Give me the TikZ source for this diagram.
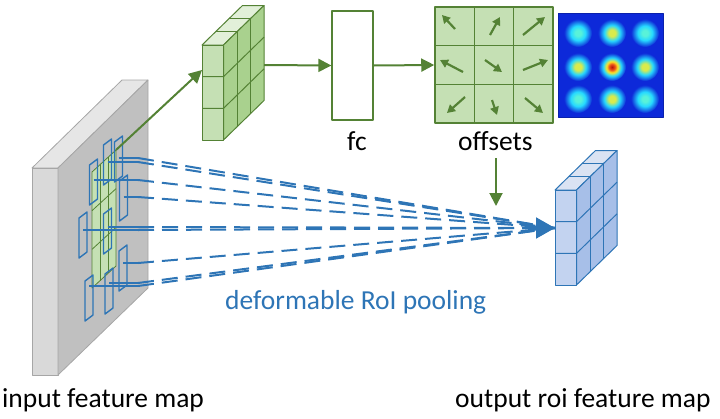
\documentclass[tikz,border=0pt]{standalone}
\usepackage{fontspec}
\setmainfont{Carlito}
\usetikzlibrary{arrows.meta,calc}
\definecolor{gline}{HTML}{548235}
\definecolor{gfront}{HTML}{C5E0B4}
\definecolor{gside}{HTML}{A9D18E}
\definecolor{gtop}{HTML}{E2F0D9}
\definecolor{bline}{HTML}{2E75B6}
\definecolor{bfront}{HTML}{C3D3F0}
\definecolor{bside}{HTML}{A7BFE8}
\definecolor{btop}{HTML}{DAE3F3}
\definecolor{slabfront}{HTML}{D9D9D9}
\definecolor{slabface}{HTML}{C0C0C0}
\definecolor{slabtop}{HTML}{E6E6E6}
\definecolor{slabedge}{HTML}{A6A6A6}
\definecolor{hmbg}{rgb}{0.05,0.16,0.85}
\definecolor{cyanb}{rgb}{0.15,0.85,1.0}
\definecolor{cornc}{rgb}{0.35,0.95,0.85}
\definecolor{yelc}{rgb}{0.85,0.92,0.3}
\definecolor{yelb}{rgb}{1.0,0.9,0.15}
\definecolor{redc}{rgb}{0.72,0.08,0.04}
\definecolor{redb}{rgb}{0.92,0.3,0.1}
\pgfdeclareradialshading{blobC}{\pgfpointorigin}{color(0bp)=(cornc); color(5bp)=(cornc); color(13bp)=(cyanb); color(25bp)=(hmbg); color(50bp)=(hmbg)}
\pgfdeclareradialshading{blobE}{\pgfpointorigin}{color(0bp)=(yelc); color(6bp)=(yelc); color(14bp)=(cyanb); color(25bp)=(hmbg); color(50bp)=(hmbg)}
\pgfdeclareradialshading{blobM}{\pgfpointorigin}{color(0bp)=(redc); color(5bp)=(redb); color(10bp)=(yelb); color(16bp)=(cyanb); color(25bp)=(hmbg); color(50bp)=(hmbg)}
\newcommand\myblock[6]{%
\begin{scope}[shift={#2}, draw=#6, line width=1pt, line join=round]
 \filldraw[fill=#5] (0,0) -- (40.5,-39.5) -- (62,-39.5) -- (21.5,0) -- cycle;
 \filldraw[fill=#4] (21.5,0) -- (62,-39.5) -- (62,55.5) -- (21.5,95) -- cycle;
 \filldraw[fill=#3] (0,0) rectangle (21.5,95);
 \foreach \k in {1,2} {
   \draw (0,31.667*\k) -- (21.5,31.667*\k) -- (62,31.667*\k-39.5);
   \draw (13.5*\k,-13.167*\k) -- (13.5*\k+21.5,-13.167*\k) -- (13.5*\k+21.5,-13.167*\k+95);
 }
 \coordinate (#1-nw) at (0,0);
\end{scope}}
\tikzset{
  lbl/.style={font=\fontsize{27.5pt}{33pt}\selectfont, inner sep=0pt, anchor=base west},
  garrow/.style={draw=gline, line width=2pt, -{Triangle[length=13pt,width=13pt]}},
  oarrow/.style={draw=gline, line width=2.2pt, -{Triangle[length=8pt,width=8.5pt]}},
  roibox/.style={draw=bline, line width=1.4pt},
  solidl/.style={draw=bline, line width=2pt},
  dashl/.style={draw=bline, line width=2pt, dash pattern=on 16pt off 8pt},
}
\begin{document}
\begin{tikzpicture}[x=1pt,y=-1pt, line join=round]
\useasboundingbox (0,0) rectangle (720,418);

% input feature map slab
\filldraw[fill=slabtop, draw=slabedge, line width=0.8pt] (32,168) -- (122,80) -- (148,80) -- (58,168) -- cycle;
\filldraw[fill=slabfront, draw=slabedge, line width=0.8pt] (32,168) rectangle (58,375);
\filldraw[fill=slabface, draw=slabedge, line width=0.8pt] (58,168) -- (148,80) -- (148,288) -- (58,375) -- cycle;

% green region on input map
\coordinate (gtl) at (92,172);
\coordinate (gtr) at (116,150);
\coordinate (gbr) at (116,266);
\coordinate (gbl) at (92,288);
\filldraw[fill=gfront, draw=gline, line width=0.8pt] (gtl) -- (gtr) -- (gbr) -- (gbl) -- cycle;
\foreach \k in {1,2} {
  \draw[gline, line width=0.8pt] ($(gtl)!\k/3!(gbl)$) -- ($(gtr)!\k/3!(gbr)$);
  \draw[gline, line width=0.8pt] ($(gtl)!\k/3!(gtr)$) -- ($(gbl)!\k/3!(gbr)$);
}

% arrow tip target of pooling
\coordinate (tip) at (555,228);

% deformed RoI bins and pooling lines
\foreach \cx/\cy/\yh in {93.5/182/180, 107.5/162/162, 118.5/159/158, 123.5/198/197, 83/235/230, 107.5/231/227, 123/268/263, 89/298/286, 109/291/283} {
  \draw[roibox] (\cx-4,\cy-17) -- (\cx+4,\cy-23) -- (\cx+4,\cy+17) -- (\cx-4,\cy+23) -- cycle;
  \draw[solidl] (\cx,\yh) -- (138,\yh);
  \draw[dashl] (138,\yh) -- (tip);
}
\draw[draw=bline, line width=2pt, -{Triangle[length=19pt,width=21pt]}] (525,228) -- (tip);

% green feature block
\myblock{gb}{(202,45)}{gfront}{gside}{gtop}{gline}
\coordinate (gbin) at (202,70);
\coordinate (gbout) at (264,65);
\draw[garrow] (gtr) -- (gbin);

% fc
\node[draw=gline, line width=1.3pt, fill=white, minimum width=41pt, minimum height=109pt, inner sep=0pt] (fc) at (352.5,65.5) {};
\node[lbl] (fclabel) at (347,150) {fc};

% offsets grid
\node[draw=gline, line width=1.5pt, fill=gfront, minimum width=118pt, minimum height=116pt, inner sep=0pt] (offsets) at (494,65) {};
\foreach \k in {1,2} {
  \draw[gline, line width=1.5pt] (435+39.33*\k,7) -- (435+39.33*\k,123);
  \draw[gline, line width=1.5pt] (435,7+38.67*\k) -- (553,7+38.67*\k);
}
\foreach \a/\b/\c/\d in {455/29/442/15, 490/35/500/17, 523/35/545/17, 463/72/440/60, 485/60/502/72, 523/70/548/60, 465/97/447/113, 492/100/497/115, 525/98/543/113}
  \draw[oarrow] (\a,\b) -- (\c,\d);
\node[lbl] (offlabel) at (458,150) {offsets};

\draw[garrow] (gbout) -- (fc.west);
\draw[garrow] (fc.east) -- (offsets.west);
\coordinate (offdown1) at (496,158);
\coordinate (offdown2) at (496,206);
\draw[garrow] (offdown1) -- (offdown2);

% heatmap
\node[fill=hmbg, draw=hmbg!80!black, line width=0.5pt, minimum width=105pt, minimum height=104pt, inner sep=0pt] (heat) at (610.5,65) {};
\foreach \x/\y/\s in {578/33/blobC, 612/33/blobE, 645/33/blobC, 578/67/blobE, 612/67/blobM, 645/67/blobE, 578/99/blobC, 612/99/blobE, 645/99/blobC}
  \shade[shading=\s] (\x,\y) circle[radius=14pt];

% output block
\myblock{bb}{(555,190)}{bfront}{bside}{btop}{bline}

% labels
\node[lbl] (inlabel) at (2,407) {input feature map};
\node[lbl, text=bline] (poollabel) at (225,309) {deformable RoI pooling};
\node[lbl] (outlabel) at (455,407) {output roi feature map};
\end{tikzpicture}
\end{document}
